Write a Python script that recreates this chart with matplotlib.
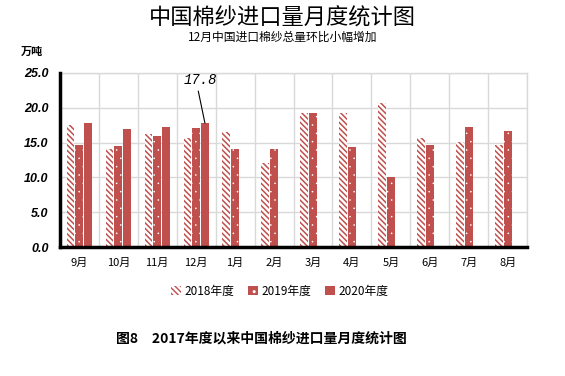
import matplotlib
matplotlib.use("Agg")
import matplotlib.pyplot as plt
import numpy as np
from matplotlib.patches import Patch

plt.rcParams['font.family'] = ['Noto Sans CJK SC', 'DejaVu Sans']

months = ['9月', '10月', '11月', '12月', '1月', '2月', '3月', '4月', '5月', '6月', '7月', '8月']
series_names = ['2018年度', '2019年度', '2020年度']
v2018 = [17.5, 14.1, 16.2, 15.7, 16.5, 12.0, 19.2, 19.2, 20.7, 15.7, 15.1, 14.6]
v2019 = [14.6, 14.5, 16.0, 17.1, 14.1, 14.1, 19.3, 14.3, 10.1, 14.6, 17.2, 16.6]
v2020 = [17.8, 16.9, 17.2, 17.8]
yticks = [0.0, 5.0, 10.0, 15.0, 20.0, 25.0]
annot_value = 17.8
annot_index = 3

red = '#C0504D'
grid = '#d9d9d9'
stripe = '\\' * 6
dots = '..'

fig = plt.figure(figsize=(5.65, 3.76), dpi=100)
ax = fig.add_axes([0.106, 0.343, 0.827, 0.463])

x = np.arange(len(months))
w = 0.2
off = 0.225
with plt.rc_context({'hatch.linewidth': 1.1}):
    ax.bar(x - off, v2018, width=w, facecolor='white', edgecolor=red, hatch=stripe, linewidth=0, zorder=3)
    h0 = Patch(facecolor='white', edgecolor=red, hatch=stripe, linewidth=0, label=series_names[0])
with plt.rc_context({'hatch.linewidth': 0.0}):
    ax.bar(x, v2019, width=w, facecolor=red, edgecolor='white', hatch=dots, linewidth=0, zorder=3)
    h1 = Patch(facecolor=red, edgecolor='white', hatch=dots, linewidth=0, label=series_names[1])
ax.bar(x[:len(v2020)] + off, v2020, width=w, facecolor=red, edgecolor=red, linewidth=0, zorder=3)
h2 = Patch(facecolor=red, edgecolor=red, linewidth=0, label=series_names[2])

ax.set_xlim(-0.5, len(months) - 0.5)
ax.set_ylim(0, 25)
ax.set_yticks(yticks)
ax.set_yticklabels([f'{t:.1f}' for t in yticks], family=['Liberation Sans', 'DejaVu Sans'],
                   fontweight='bold', fontstyle='italic', fontsize=9)
ax.set_xticks(x)
ax.set_xticklabels(months, fontsize=8)
ax.set_xticks(np.arange(-0.5, len(months), 1), minor=True)
ax.tick_params(axis='both', which='both', length=0)
ax.tick_params(axis='x', pad=8)
ax.tick_params(axis='y', pad=8)
ax.grid(True, which='minor', axis='x', color=grid, linewidth=1, zorder=0)
ax.grid(True, which='major', axis='y', color=grid, linewidth=1, zorder=0)
for s in ['top', 'right']:
    ax.spines[s].set_color(grid)
    ax.spines[s].set_linewidth(1)
for s in ['left', 'bottom']:
    ax.spines[s].set_color('black')
    ax.spines[s].set_linewidth(2.5)
    ax.spines[s].set_zorder(5)

ax.annotate(f'{annot_value}', xy=(annot_index + off, annot_value), xytext=(-3, 26),
            textcoords='offset points', ha='center', va='bottom',
            family=['Liberation Mono', 'DejaVu Sans Mono'], fontstyle='italic', fontsize=10,
            arrowprops=dict(arrowstyle='-', color='black', lw=0.8, shrinkA=1, shrinkB=0,
                            relpos=(0.4, 0.0)))

fig.legend(handles=[h0, h1, h2], loc='center', bbox_to_anchor=(0.495, 0.226), ncol=3, frameon=False,
           fontsize=8.5, handlelength=0.8, handleheight=0.8, handletextpad=0.3, columnspacing=1.2)

fig.text(0.5, 0.953, '中国棉纱进口量月度统计图', ha='center', va='center', fontsize=16)
fig.text(0.5, 0.902, '12月中国进口棉纱总量环比小幅增加', ha='center', va='center',
         fontsize=8.5, fontstyle='italic')
fig.text(0.057, 0.862, '万吨', ha='center', va='center', fontsize=8, fontweight='bold', fontstyle='italic')
fig.text(0.462, 0.101, '图8　2017年度以来中国棉纱进口量月度统计图', ha='center', va='center',
         fontsize=10, fontweight='bold')

fig.savefig('out.png', dpi=100)
